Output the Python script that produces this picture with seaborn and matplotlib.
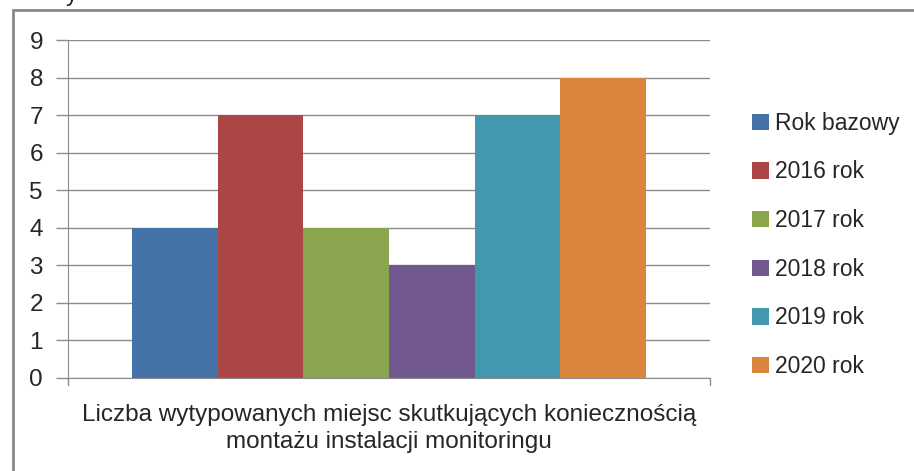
import matplotlib
matplotlib.use("Agg")
import matplotlib.pyplot as plt
import pandas as pd
import seaborn as sns
from matplotlib.patches import Rectangle

# Dane
category = ["Liczba wytypowanych miejsc skutkujących koniecznością\nmontażu instalacji monitoringu"]
series = ["Rok bazowy", "2016 rok", "2017 rok", "2018 rok", "2019 rok", "2020 rok"]
values = [4, 7, 4, 3, 7, 8]
colors = ["#4572A7", "#AA4643", "#89A54E", "#71588F", "#4198AF", "#DB843D"]

df = pd.DataFrame({
    "kategoria": category * len(series),
    "seria": series,
    "wartosc": values,
})

sns.set_style("white")
plt.rcParams["font.family"] = ["Liberation Sans", "DejaVu Sans"]
plt.rcParams["font.size"] = 16

fig = plt.figure(figsize=(9.14, 4.71), dpi=100)
ax = fig.add_axes([68 / 914, 1 - 378 / 471, (710 - 68) / 914, (378 - 40) / 471])

sns.barplot(
    data=df, x="kategoria", y="wartosc", hue="seria",
    palette=colors, saturation=1, width=0.8, ax=ax, linewidth=0,
)

ax.set_ylim(0, 9)
ax.set_yticks(range(0, 10))
ax.set_xlim(-0.5, 0.5)
ax.yaxis.grid(True, color="#8c8c8c", linewidth=1)
ax.set_axisbelow(True)
ax.set_xlabel("")
ax.set_ylabel("")
for side in ["top", "right"]:
    ax.spines[side].set_visible(False)
ax.spines["left"].set_color("#8c8c8c")
ax.spines["bottom"].set_color("#8c8c8c")
ax.tick_params(axis="y", left=True, length=9, width=1, color="#8c8c8c", pad=9, labelsize=17.5)
ax.tick_params(axis="x", length=0, pad=19, labelsize=17.5)
ax.set_xticks([0])
ax.set_xticklabels(category, linespacing=1.3)
# znaczniki na granicach kategorii
for xv in (-0.5, 0.5):
    ax.plot([xv, xv], [0, -0.18], color="#8c8c8c", lw=1, clip_on=False)

# Legenda
handles, labels = ax.get_legend_handles_labels()
ax.legend(
    handles, labels, loc="center left", bbox_to_anchor=(752 / 914, 1 - 245 / 471),
    bbox_transform=fig.transFigure, frameon=False, fontsize=16.5,
    handlelength=0.72, handleheight=0.72, handletextpad=0.3, labelspacing=1.12,
    borderaxespad=0, borderpad=0,
)

# Ramka wykresu
fig.patches.append(Rectangle((13 / 914, -0.05), 1.0, 1 - 10 / 471 + 0.05,
                             transform=fig.transFigure, fill=False,
                             edgecolor="#888888", linewidth=2))
# ucięty tekst nad wykresem (widoczny w oryginale tylko fragment)
fig.text(66 / 914, 1 - 1 / 471, "y", fontsize=17, va="baseline", color="#222222")

fig.savefig("out.png", dpi=100)
